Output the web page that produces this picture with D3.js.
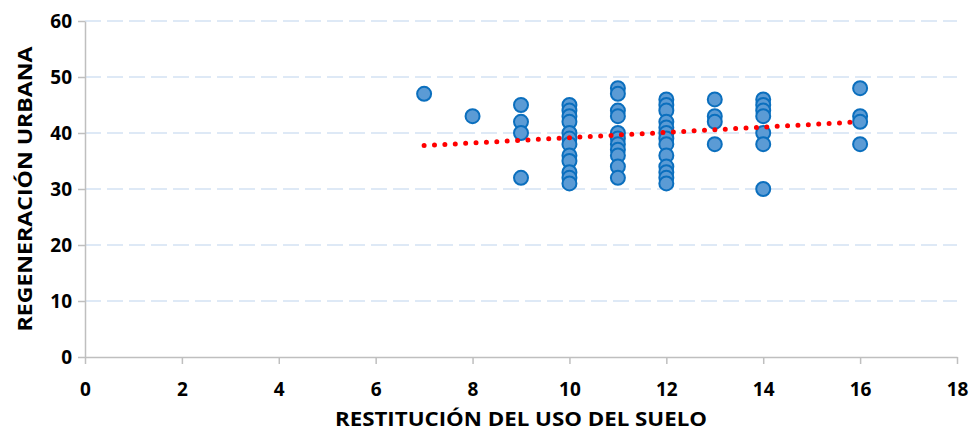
<!DOCTYPE html>
<html>
<head>
<meta charset="utf-8">
<script src="https://cdn.jsdelivr.net/npm/d3@7"></script>
<style>
  body { margin: 0; background: #fff; }
  text { font-family: "Open Sans", "Liberation Sans", sans-serif; font-weight: 700; fill: #000; }
</style>
</head>
<body>
<svg id="contenedor"></svg>
<script>
// valores de X (restitución del uso del suelo) y de Y (regeneración urbana)
let xValores = [
  7, 8,
  9, 9, 9, 9,
  10, 10, 10, 10, 10, 10, 10, 10, 10, 10, 10, 10,
  11, 11, 11, 11, 11, 11, 11, 11, 11, 11, 11,
  12, 12, 12, 12, 12, 12, 12, 12, 12, 12, 12, 12, 12,
  13, 13, 13, 13,
  14, 14, 14, 14, 14, 14, 14,
  16, 16, 16, 16
];
let yValores = [
  47, 43,
  45, 42, 40, 32,
  45, 44, 43, 42, 40, 39, 38, 36, 35, 33, 32, 31,
  48, 47, 44, 43, 40, 39, 38, 37, 36, 34, 32,
  46, 45, 44, 42, 41, 40, 39, 38, 36, 34, 33, 32, 31,
  46, 43, 42, 38,
  46, 45, 44, 43, 40, 38, 30,
  48, 43, 42, 38
];

// línea de tendencia (extremos)
let tendenciaX = [7, 16];
let tendenciaY = [37.75, 42.0];

let xTicks = [0, 2, 4, 6, 8, 10, 12, 14, 16, 18];
let yTicks = [0, 10, 20, 30, 40, 50, 60];

let tituloX = "RESTITUCIÓN DEL USO DEL SUELO";
let tituloY = "REGENERACIÓN URBANA";

function getConfig() {
  let width = 973;
  let height = 431;
  let margin = { top: 21, bottom: 74, left: 85, right: 16 };
  let bodyWidth = width - margin.left - margin.right;
  let bodyHeight = height - margin.top - margin.bottom;
  let container = d3.select("#contenedor").attr("width", width).attr("height", height);
  return { width, height, margin, bodyWidth, bodyHeight, container };
}

function getScales(config) {
  let xScale = d3.scaleLinear().domain([0, 18]).range([0, config.bodyWidth]);
  let yScale = d3.scaleLinear().domain([0, 60]).range([config.bodyHeight, 0]);
  return { xScale, yScale };
}

function dibujarGrid(scales, config) {
  let { margin, bodyWidth, container } = config;
  let { yScale } = scales;
  let g = container.append("g").attr("transform", `translate(${margin.left},${margin.top})`);
  g.selectAll(".grid")
    .data(yTicks.filter(d => d > 0))
    .enter()
    .append("line")
    .attr("x1", 0)
    .attr("x2", bodyWidth)
    .attr("y1", d => yScale(d))
    .attr("y2", d => yScale(d))
    .attr("stroke", "#d3e2f4")
    .attr("stroke-width", 1.5)
    .attr("stroke-dasharray", "16,6");
}

function dibujarEjes(scales, config) {
  let { margin, bodyHeight, container } = config;
  let { xScale, yScale } = scales;

  let ejeX = container.append("g")
    .attr("transform", `translate(${margin.left},${margin.top + bodyHeight})`)
    .call(d3.axisBottom(xScale).tickValues(xTicks).tickSize(7).tickPadding(19).tickSizeOuter(0));

  let ejeY = container.append("g")
    .attr("transform", `translate(${margin.left},${margin.top})`)
    .call(d3.axisLeft(yScale).tickValues(yTicks).tickSize(7).tickPadding(6).tickSizeOuter(0));

  [ejeX, ejeY].forEach(eje => {
    eje.attr("font-family", null).attr("font-size", null);
    eje.select(".domain").attr("stroke", "#bfbfbf").attr("stroke-width", 1.5);
    eje.selectAll(".tick line").attr("stroke", "#bfbfbf").attr("stroke-width", 1.5);
    eje.selectAll(".tick text")
      .style("font-size", "19px")
      .style("font-family", "'Open Sans', 'Liberation Sans', sans-serif")
      .style("font-weight", "700")
      .attr("fill", "#000");
  });

  container.append("text")
    .attr("x", margin.left + config.bodyWidth / 2)
    .attr("y", 426)
    .attr("text-anchor", "middle")
    .style("font-size", "20px")
    .attr("textLength", 372)
    .attr("lengthAdjust", "spacingAndGlyphs")
    .text(tituloX);

  container.append("text")
    .attr("transform", `translate(32,${margin.top + bodyHeight / 2}) rotate(-90)`)
    .attr("text-anchor", "middle")
    .style("font-size", "20px")
    .attr("textLength", 285)
    .attr("lengthAdjust", "spacingAndGlyphs")
    .text(tituloY);
}

function dibujarPuntos(scales, config) {
  let { margin, container } = config;
  let { xScale, yScale } = scales;
  let g = container.append("g").attr("transform", `translate(${margin.left},${margin.top})`);

  let puntos = xValores.map((x, i) => ({ x: x, y: yValores[i] }));

  g.selectAll(".punto")
    .data(puntos)
    .enter()
    .append("circle")
    .attr("cx", d => xScale(d.x))
    .attr("cy", d => yScale(d.y))
    .attr("r", 7)
    .attr("fill", "#5b9bd5")
    .attr("stroke", "#0b6fbe")
    .attr("stroke-width", 2);

  // línea de tendencia punteada
  let linea = d3.line().x(d => xScale(d[0])).y(d => yScale(d[1]));
  g.append("path")
    .attr("d", linea(tendenciaX.map((x, i) => [x, tendenciaY[i]])))
    .attr("fill", "none")
    .attr("stroke", "#ff0000")
    .attr("stroke-width", 5)
    .attr("stroke-linecap", "round")
    .attr("stroke-dasharray", "0,10.4");
}

let config = getConfig();
let scales = getScales(config);
dibujarGrid(scales, config);
dibujarEjes(scales, config);
dibujarPuntos(scales, config);
</script>
</body>
</html>
